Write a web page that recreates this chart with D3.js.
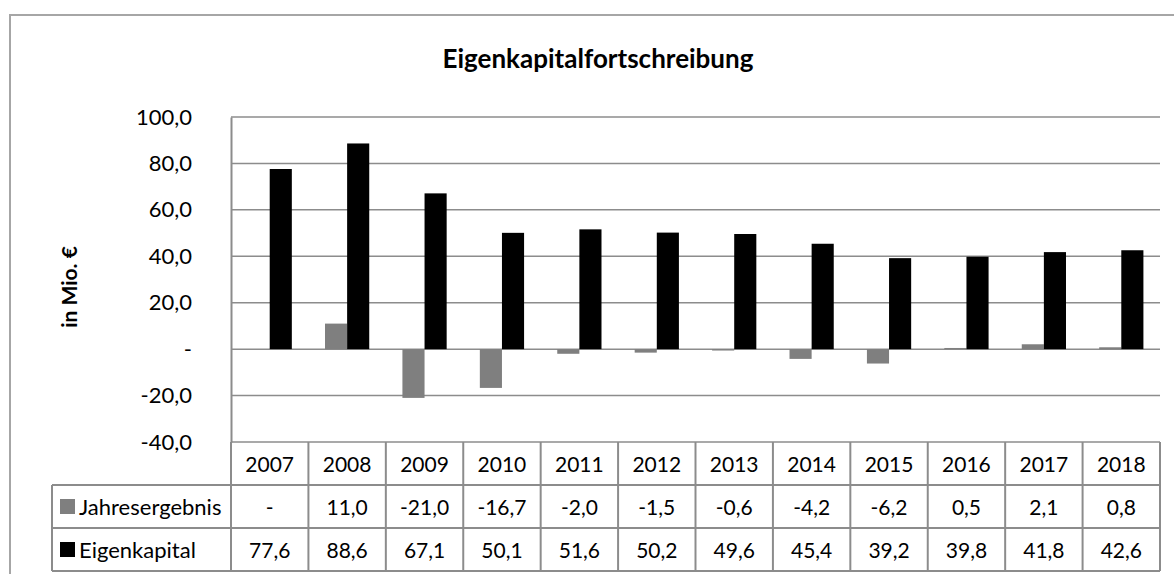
<!DOCTYPE html>
<html>
<head>
<meta charset="utf-8">
<script src="https://cdn.jsdelivr.net/npm/d3@7/dist/d3.min.js"></script>
<style>
  body { margin: 0; background: #fff; }
  text { font-family: Lato, "Open Sans", sans-serif; fill: #000; }
</style>
</head>
<body>
<div id="chart"></div>
<script>
// data
var years = ["2007", "2008", "2009", "2010", "2011", "2012", "2013", "2014", "2015", "2016", "2017", "2018"];
var jahresergebnis = [0, 11.0, -21.0, -16.7, -2.0, -1.5, -0.6, -4.2, -6.2, 0.5, 2.1, 0.8];
var eigenkapital = [77.6, 88.6, 67.1, 50.1, 51.6, 50.2, 49.6, 45.4, 39.2, 39.8, 41.8, 42.6];
var seriesNames = ["Jahresergebnis", "Eigenkapital"];
var seriesColors = ["#7f7f7f", "#000000"];
var yTicks = [-40, -20, 0, 20, 40, 60, 80, 100];

var w = 1174, h = 574;
var pLeft = 231, pRight = 1160, pTop = 117, pBottom = 442;
var rowH = 43;
var gridCol = "#8c8c8c";

var svg = d3.select("#chart").append("svg")
    .attr("width", w)
    .attr("height", h);

// outer frame (cut off on the right and bottom like the reference)
svg.append("rect")
    .attr("x", 10).attr("y", 15)
    .attr("width", 1180).attr("height", 600)
    .attr("fill", "none")
    .attr("stroke", "#a6a6a6")
    .attr("stroke-width", 2);

svg.append("text")
    .attr("x", 598).attr("y", 68)
    .attr("text-anchor", "middle")
    .attr("font-size", "26px")
    .attr("font-weight", "bold")
    .text("Eigenkapitalfortschreibung");

var x = d3.scaleBand().domain(years).range([pLeft, pRight]).padding(0);
var xs = d3.scaleBand().domain(seriesNames).range([0, x.bandwidth()]).paddingInner(0).paddingOuter(0.75);
var y = d3.scaleLinear().domain([-40, 100]).range([pBottom, pTop]);

function fmt(v) {
  if (v === 0) return "-";
  return v.toFixed(1).replace(".", ",");
}

// gridlines
svg.append("g").selectAll("line")
    .data(yTicks)
    .enter().append("line")
    .attr("x1", pLeft).attr("x2", pRight)
    .attr("y1", function(d) { return y(d); })
    .attr("y2", function(d) { return y(d); })
    .attr("stroke", gridCol)
    .attr("stroke-width", 1.5);

// y axis
var yAxis = d3.axisLeft(y).tickValues(yTicks).tickFormat(fmt).tickSize(0).tickPadding(39);
var ga = svg.append("g").attr("transform", "translate(" + pLeft + ",0)").call(yAxis);
ga.select(".domain").attr("stroke", gridCol).attr("stroke-width", 2);
ga.selectAll("text")
    .attr("font-size", "22px")
    .attr("font-family", "Lato, sans-serif")
    .attr("fill", "#000");

svg.append("text")
    .attr("transform", "translate(77,287) rotate(-90)")
    .attr("text-anchor", "middle")
    .attr("font-size", "21px")
    .attr("font-weight", "bold")
    .text("in Mio. €");

// bars
var series = [jahresergebnis, eigenkapital];
series.forEach(function(vals, si) {
  svg.append("g").selectAll("rect")
      .data(vals)
      .enter().append("rect")
      .attr("x", function(d, i) { return x(years[i]) + xs(seriesNames[si]); })
      .attr("y", function(d) { return y(Math.max(0, d)); })
      .attr("width", xs.bandwidth())
      .attr("height", function(d) { return Math.abs(y(d) - y(0)); })
      .attr("fill", seriesColors[si]);
});

// data table
var tbl = svg.append("g").attr("stroke", gridCol).attr("stroke-width", 2);
var tLeft = 52;
[1, 2, 3].forEach(function(k) {
  tbl.append("line").attr("x1", tLeft).attr("x2", pRight)
      .attr("y1", pBottom + k * rowH).attr("y2", pBottom + k * rowH);
});
tbl.append("line").attr("x1", tLeft).attr("x2", tLeft).attr("y1", pBottom + rowH).attr("y2", pBottom + 3 * rowH);
tbl.selectAll(".vl")
    .data(years.concat(["end"]))
    .enter().append("line")
    .attr("class", "vl")
    .attr("x1", function(d, i) { return pLeft + i * x.step(); })
    .attr("x2", function(d, i) { return pLeft + i * x.step(); })
    .attr("y1", pBottom)
    .attr("y2", pBottom + 3 * rowH);

svg.append("g").selectAll("text")
    .data(years)
    .enter().append("text")
    .attr("x", function(d) { return x(d) + x.bandwidth() / 2; })
    .attr("y", pBottom + rowH / 2 + 8)
    .attr("text-anchor", "middle")
    .attr("font-size", "21px")
    .text(function(d) { return d; });

series.forEach(function(vals, si) {
  var ry = pBottom + (si + 1) * rowH;
  var g = svg.append("g");
  g.append("rect")
      .attr("x", 60).attr("y", ry + 14)
      .attr("width", 15).attr("height", 15)
      .attr("fill", seriesColors[si]);
  g.append("text")
      .attr("x", 79).attr("y", ry + rowH / 2 + 8)
      .attr("font-size", "22px")
      .text(seriesNames[si]);
  g.selectAll(".val")
      .data(vals)
      .enter().append("text")
      .attr("class", "val")
      .attr("x", function(d, i) { return x(years[i]) + x.bandwidth() / 2; })
      .attr("y", ry + rowH / 2 + 8)
      .attr("text-anchor", "middle")
      .attr("font-size", "21px")
      .text(fmt);
});
</script>
</body>
</html>
